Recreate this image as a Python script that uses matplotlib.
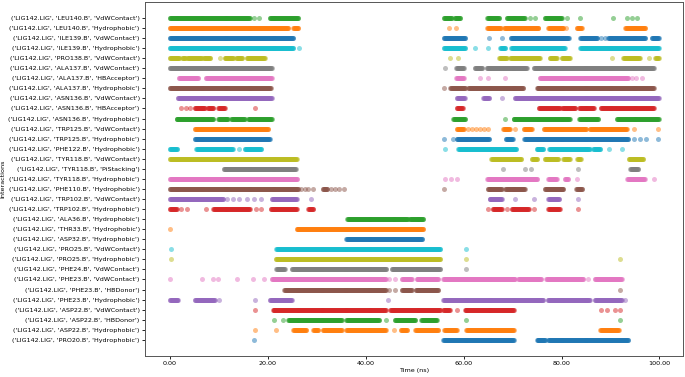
import numpy as np
import matplotlib.pyplot as plt

FRAME_STEP = 0.1  # ns between trajectory frames

# interactions, top row first (as they appear in the figure)
interactions = [
    "('LIG142.LIG', 'LEU140.B', 'VdWContact')",
    "('LIG142.LIG', 'LEU140.B', 'Hydrophobic')",
    "('LIG142.LIG', 'ILE139.B', 'VdWContact')",
    "('LIG142.LIG', 'ILE139.B', 'Hydrophobic')",
    "('LIG142.LIG', 'PRO138.B', 'VdWContact')",
    "('LIG142.LIG', 'ALA137.B', 'VdWContact')",
    "('LIG142.LIG', 'ALA137.B', 'HBAcceptor')",
    "('LIG142.LIG', 'ALA137.B', 'Hydrophobic')",
    "('LIG142.LIG', 'ASN136.B', 'VdWContact')",
    "('LIG142.LIG', 'ASN136.B', 'HBAcceptor')",
    "('LIG142.LIG', 'ASN136.B', 'Hydrophobic')",
    "('LIG142.LIG', 'TRP125.B', 'VdWContact')",
    "('LIG142.LIG', 'TRP125.B', 'Hydrophobic')",
    "('LIG142.LIG', 'PHE122.B', 'Hydrophobic')",
    "('LIG142.LIG', 'TYR118.B', 'VdWContact')",
    "('LIG142.LIG', 'TYR118.B', 'PiStacking')",
    "('LIG142.LIG', 'TYR118.B', 'Hydrophobic')",
    "('LIG142.LIG', 'PHE110.B', 'Hydrophobic')",
    "('LIG142.LIG', 'TRP102.B', 'VdWContact')",
    "('LIG142.LIG', 'TRP102.B', 'Hydrophobic')",
    "('LIG142.LIG', 'ALA36.B', 'Hydrophobic')",
    "('LIG142.LIG', 'THR33.B', 'Hydrophobic')",
    "('LIG142.LIG', 'ASP32.B', 'Hydrophobic')",
    "('LIG142.LIG', 'PRO25.B', 'VdWContact')",
    "('LIG142.LIG', 'PRO25.B', 'Hydrophobic')",
    "('LIG142.LIG', 'PHE24.B', 'VdWContact')",
    "('LIG142.LIG', 'PHE23.B', 'VdWContact')",
    "('LIG142.LIG', 'PHE23.B', 'HBDonor')",
    "('LIG142.LIG', 'PHE23.B', 'Hydrophobic')",
    "('LIG142.LIG', 'ASP22.B', 'VdWContact')",
    "('LIG142.LIG', 'ASP22.B', 'HBDonor')",
    "('LIG142.LIG', 'ASP22.B', 'Hydrophobic')",
    "('LIG142.LIG', 'PRO20.B', 'Hydrophobic')",
]

# time windows (start, end) in ns where each interaction is present
leu140_vdw = [(0, 16.3), (17.3, 17.3), (18.2, 18.2), (20.4, 26.2), (56.0, 57.6), (58.2, 59.3),
              (64.8, 67.3), (68.8, 72.5), (73.6, 73.6), (74.6, 74.6), (76.6, 80.0), (81.1, 81.1),
              (83.8, 83.8), (90.6, 90.6), (93.4, 93.4), (94.4, 94.4), (95.4, 95.4)]
leu140_hyd = [(0, 24.2), (25.2, 26.2), (57.0, 57.0), (58.4, 58.4), (64.8, 67.6), (68.3, 75.3),
              (77.3, 80.4), (81.0, 81.0), (83.1, 84.1), (93.0, 97.1)]
ile139_vdw = [(0, 25.2), (56.0, 60.3), (65.2, 65.2), (67.8, 67.8), (69.6, 81.5), (83.8, 87.3),
              (88.0, 88.0), (88.8, 88.8), (89.5, 97.1), (98.4, 99.8)]
ile139_hyd = [(0, 25.2), (26.4, 26.4), (56.0, 60.3), (62.3, 62.3), (64.9, 64.9), (67.5, 68.5),
              (69.7, 80.7), (83.8, 99.8)]
pro138_vdw = [(0, 2.0), (2.6, 3.2), (3.6, 6.5), (7.0, 8.3), (10.2, 10.2), (11.2, 13.0),
              (13.6, 14.8), (15.7, 19.4), (57.2, 57.2), (58.9, 58.9), (67.3, 68.8), (69.5, 75.6),
              (77.6, 79.0), (80.1, 81.7), (90.3, 90.3), (92.6, 96.0), (97.8, 97.8), (99.1, 99.8)]
ala137_vdw = [(0, 20.8), (56.2, 56.2), (58.5, 60.0), (62.3, 63.8), (64.7, 72.9), (74.3, 98.8)]
ala137_hba = [(1.9, 5.8), (7.4, 20.8), (58.5, 60.0), (63.4, 63.4), (64.9, 64.9), (68.5, 68.5),
              (75.6, 93.6), (94.4, 94.4), (95.3, 95.3), (96.5, 96.5)]
ala137_hyd = [(0, 20.6), (56.1, 56.1), (57.3, 60.3), (61.0, 72.2), (75.0, 98.8)]
asn136_vdw = [(1.7, 20.8), (58.6, 60.2), (64.0, 65.2), (67.8, 67.8), (70.5, 99.8)]
asn136_hba = [(2.4, 2.4), (3.3, 3.3), (4.1, 4.1), (5.1, 7.2), (7.8, 8.9), (9.9, 11.2), (17.4, 17.4),
              (58.6, 59.8), (75.4, 79.6), (80.2, 82.8), (83.6, 86.6), (88.0, 98.8)]
asn136_hyd = [(1.4, 8.9), (9.9, 11.9), (12.6, 15.3), (16.0, 20.8), (57.9, 60.3), (68.5, 68.5),
              (70.2, 81.7), (83.6, 87.5), (91.3, 99.8)]
trp125_vdw = [(5.1, 20.1), (58.6, 60.0), (61.0, 61.0), (61.8, 61.8), (62.5, 62.5), (63.3, 63.3),
              (64.1, 64.1), (65.0, 65.0), (68.1, 69.4), (70.5, 70.5), (72.3, 73.9), (76.4, 85.0),
              (85.8, 93.3), (94.7, 94.7), (99.7, 99.7)]
trp125_hyd = [(5.1, 20.4), (56.1, 56.1), (57.9, 57.9), (58.6, 65.2), (68.6, 70.0), (72.4, 93.6),
              (94.7, 94.7), (96.0, 96.0), (97.3, 97.3), (99.7, 99.7)]
phe122_hyd = [(0, 1.5), (5.4, 12.9), (14.1, 14.1), (15.3, 18.7), (56.2, 56.2), (58.9, 70.8),
              (74.9, 76.3), (77.5, 85.8), (86.5, 87.9), (89.6, 89.6), (92.3, 92.3)]
tyr118_vdw = [(0, 25.9), (65.7, 71.8), (73.9, 75.0), (76.6, 79.3), (80.4, 81.7), (83.2, 83.9),
              (93.7, 96.7)]
tyr118_pi = [(11.0, 25.7), (68.0, 68.0), (72.5, 72.5), (73.7, 73.7), (83.3, 83.3), (94.0, 95.7)]
tyr118_hyd = [(0, 26.0), (56.2, 56.2), (57.5, 57.5), (58.7, 58.7), (64.8, 75.0), (77.3, 79.0),
              (80.7, 81.4), (83.1, 83.1), (93.4, 97.0), (98.8, 98.8)]
phe110_hyd = [(0, 26.2), (26.8, 26.8), (27.6, 27.6), (28.3, 28.3), (29.3, 29.3), (31.3, 32.2),
              (33.0, 33.0), (33.8, 33.8), (34.6, 34.6), (35.6, 35.6), (56.1, 56.1), (64.9, 67.8),
              (68.5, 72.5), (76.6, 80.4), (83.0, 84.2)]
trp102_vdw = [(0, 10.9), (11.7, 11.7), (12.9, 12.9), (14.2, 14.2), (15.8, 15.8), (17.3, 17.3),
              (18.7, 18.7), (20.8, 25.9), (28.8, 28.8), (65.3, 67.8), (70.5, 70.5), (74.3, 74.3),
              (77.3, 79.5), (83.3, 83.3)]
trp102_hyd = [(0, 1.4), (2.4, 2.4), (3.6, 3.6), (7.5, 7.5), (8.9, 16.3), (17.6, 17.6), (18.7, 18.7),
              (20.6, 25.9), (28.3, 29.3), (65.0, 65.0), (66.0, 67.8), (68.9, 68.9), (69.8, 73.3),
              (74.3, 74.3), (77.3, 79.6), (83.3, 83.3)]
ala36_hyd = [(36.3, 48.6), (49.0, 51.8)]
thr33_hyd = [(0, 0), (25.9, 51.8)]
asp32_hyd = [(36.1, 51.6)]
pro25_vdw = [(0.3, 0.3), (21.8, 55.2), (60.6, 60.6)]
pro25_hyd = [(0.2, 0.2), (21.7, 55.2), (60.6, 60.6), (92.0, 92.0)]
phe24_vdw = [(21.8, 23.5), (24.9, 44.2), (45.3, 55.2), (60.6, 60.6)]
phe23_vdw = [(0, 0), (6.5, 6.5), (8.9, 8.9), (9.9, 9.9), (13.8, 13.8), (17.0, 17.0), (19.3, 19.3),
             (20.8, 44.1), (44.8, 44.8), (46.0, 46.0), (47.4, 49.4), (50.4, 54.8), (55.9, 70.5),
             (71.2, 75.9), (76.9, 84.4), (85.5, 85.5), (86.8, 92.3)]
phe23_hbd = [(23.4, 44.1), (44.8, 44.8), (46.0, 46.0), (47.4, 49.4), (50.2, 54.8), (91.9, 91.9)]
phe23_hyd = [(0, 1.7), (5.1, 9.2), (10.0, 10.0), (17.4, 17.4), (20.4, 24.9), (44.6, 44.6),
             (55.9, 76.3), (77.2, 85.8), (86.8, 92.3), (93.0, 93.0)]
asp22_vdw = [(17.4, 17.4), (21.1, 44.1), (45.0, 55.2), (55.9, 57.2), (58.6, 58.6), (60.3, 70.2),
             (88.1, 88.1), (89.2, 89.2), (90.9, 90.9), (92.0, 92.0)]
asp22_hbd = [(21.3, 21.3), (23.2, 23.2), (24.2, 35.1), (36.1, 42.8), (44.1, 44.1), (46.0, 50.1),
             (51.4, 54.5), (60.5, 60.5), (92.0, 92.0)]
asp22_hyd = [(17.4, 17.4), (21.8, 21.8), (25.2, 27.9), (29.3, 30.3), (31.3, 35.1), (36.1, 44.1),
             (45.8, 45.8), (47.2, 48.5), (50.1, 54.8), (56.1, 58.6), (60.6, 70.2), (87.9, 91.7)]
pro20_hyd = [(17.2, 17.2), (55.9, 70.2), (75.0, 76.7), (77.3, 93.6)]

windows = [leu140_vdw, leu140_hyd, ile139_vdw, ile139_hyd, pro138_vdw, ala137_vdw, ala137_hba,
           ala137_hyd, asn136_vdw, asn136_hba, asn136_hyd, trp125_vdw, trp125_hyd, phe122_hyd,
           tyr118_vdw, tyr118_pi, tyr118_hyd, phe110_hyd, trp102_vdw, trp102_hyd, ala36_hyd,
           thr33_hyd, asp32_hyd, pro25_vdw, pro25_hyd, phe24_vdw, phe23_vdw, phe23_hbd, phe23_hyd,
           asp22_vdw, asp22_hbd, asp22_hyd, pro20_hyd]


def frames(win):
    # expand presence windows into frame times
    t = [np.arange(a, b + 1e-6, FRAME_STEP) for a, b in win]
    return np.concatenate(t)


fig, ax = plt.subplots(figsize=(6.85, 3.77), dpi=100)

# bottom row first so it gets y=0 and the first colour of the cycle
for label, win in zip(interactions[::-1], windows[::-1]):
    t = frames(win)
    ax.scatter(t, [label] * len(t), s=13, alpha=0.5, linewidths=0)

ax.set_xticks([0, 20, 40, 60, 80, 100])
ax.set_xticklabels([f'{v:.2f}' for v in [0, 20, 40, 60, 80, 100]])
ax.tick_params(axis='both', labelsize=4.6, length=2.5, width=0.6, pad=1.5)
ax.set_xlabel('Time (ns)', fontsize=4.6, labelpad=1)
ax.set_ylabel('Interactions', fontsize=4.6, labelpad=2)
for sp in ax.spines.values():
    sp.set_linewidth(0.7)
    sp.set_color('#555555')

fig.subplots_adjust(left=0.212, right=0.997, top=0.995, bottom=0.056)
fig.savefig('out.png', dpi=100)
